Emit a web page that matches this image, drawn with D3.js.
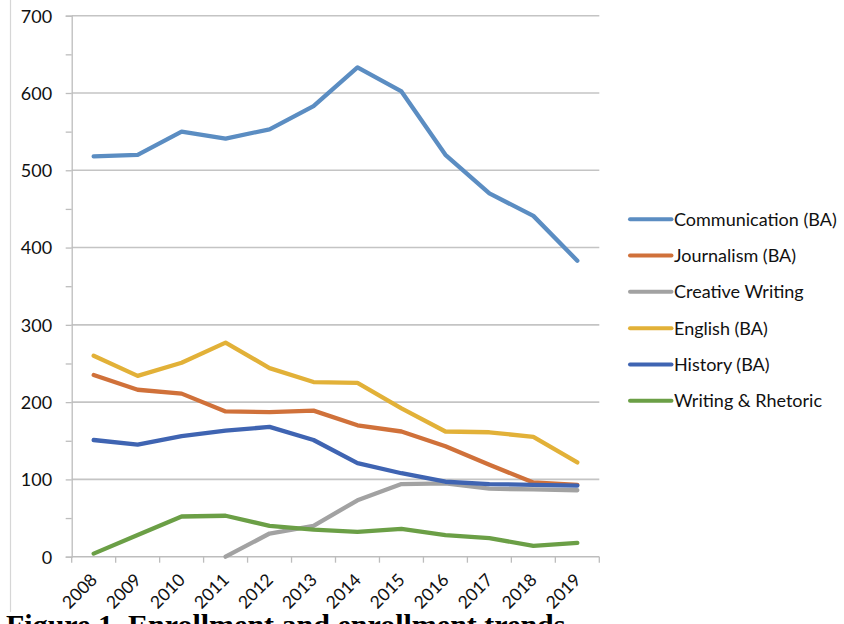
<!DOCTYPE html>
<html>
<head>
<meta charset="utf-8">
<script src="https://cdn.jsdelivr.net/npm/d3@7"></script>
<style>
  html, body { margin: 0; padding: 0; background: #fff; overflow: hidden; }
  svg { display: block; }
</style>
</head>
<body>
<svg id="chart" width="844" height="624"></svg>
<script>
// Enrollment by program, 2008–2019
const years = ["2008","2009","2010","2011","2012","2013","2014","2015","2016","2017","2018","2019"];
const communication = [518, 520, 550, 541, 553, 583, 633, 602, 520, 470, 441, 383];
const journalism    = [235, 216, 211, 188, 187, 189, 170, 162, 143, 119, 96, 93];
const creativeWriting = [null, null, null, 0, 30, 40, 73, 94, 95, 88, 87, 86];
const english       = [260, 234, 251, 277, 244, 226, 225, 192, 162, 161, 155, 122];
const history       = [151, 145, 156, 163, 168, 151, 121, 108, 97, 94, 93, 92];
const writingRhetoric = [4, 28, 52, 53, 40, 35, 32, 36, 28, 24, 14, 18];
const yTicks = [0, 100, 200, 300, 400, 500, 600, 700];
const yMinorTicks = [50, 150, 250, 350, 450, 550, 650];

const seriesNames = ["Communication (BA)", "Journalism (BA)", "Creative Writing", "English (BA)", "History (BA)", "Writing & Rhetoric"];
const seriesValues = [communication, journalism, creativeWriting, english, history, writingRhetoric];
const seriesColors = ["#5B8DC2", "#D0713A", "#A2A2A2", "#E2B138", "#3F64B2", "#6B9F46"];

const svg = d3.select("#chart");
const font = "Lato, 'Open Sans', sans-serif";

const x = d3.scaleBand().domain(years).range([71.7, 599.3]).padding(0);
const y = d3.scaleLinear().domain([0, 700]).range([556.7, 15.7]);

// outer frame line on the left
svg.append("line")
  .attr("x1", 10.5).attr("x2", 10.5).attr("y1", 0).attr("y2", 612)
  .attr("stroke", "#D6D6D6").attr("stroke-width", 1.2);

// horizontal gridlines
svg.append("g").selectAll("line").data(yTicks.filter(v => v > 0)).join("line")
  .attr("x1", 71.7).attr("x2", 599.3)
  .attr("y1", d => y(d)).attr("y2", d => y(d))
  .attr("stroke", "#C4C4C4").attr("stroke-width", 1.6);

// y axis
const yAxis = d3.axisLeft(y).tickValues(yTicks.concat(yMinorTicks)).tickSize(6)
  .tickFormat(d => yTicks.includes(d) ? d : "");
const gy = svg.append("g").attr("transform", "translate(71.7,0)").call(yAxis);
gy.select(".domain").attr("stroke", "#BDBDBD").attr("stroke-width", 1.3);
gy.selectAll(".tick line").attr("stroke", "#BDBDBD").attr("stroke-width", 1.3);
gy.selectAll(".tick text")
  .attr("x", -19.5).attr("dy", "0.35em")
  .attr("font-family", font).attr("font-size", 18).attr("fill", "#111");

// x axis with ticks at category boundaries
const bounds = years.map(yr => x(yr)).concat([x.range()[1]]);
svg.append("line")
  .attr("x1", 71.7).attr("x2", 599.3).attr("y1", y(0)).attr("y2", y(0))
  .attr("stroke", "#BDBDBD").attr("stroke-width", 1.6);
svg.append("g").selectAll("line").data(bounds).join("line")
  .attr("x1", d => d).attr("x2", d => d)
  .attr("y1", y(0)).attr("y2", y(0) + 6)
  .attr("stroke", "#BDBDBD").attr("stroke-width", 1.3);

svg.append("g").selectAll("text").data(years).join("text")
  .attr("transform", d => `translate(${x(d) + x.bandwidth() / 2 + 4.6},581) rotate(-45)`)
  .attr("text-anchor", "end")
  .attr("font-family", font).attr("font-size", 17.5).attr("fill", "#111")
  .text(d => d);

// series lines
const line = d3.line()
  .defined(d => d.v !== null)
  .x(d => x(d.year) + x.bandwidth() / 2)
  .y(d => y(d.v));

seriesValues.forEach((vals, i) => {
  svg.append("path")
    .datum(vals.map((v, j) => ({ year: years[j], v })))
    .attr("fill", "none")
    .attr("stroke", seriesColors[i])
    .attr("stroke-width", 4.3)
    .attr("stroke-linejoin", "round")
    .attr("stroke-linecap", "round")
    .attr("d", line);
});

// legend
const legendY = d3.scalePoint().domain(seriesNames).range([219.3, 400.7]);
const legend = svg.append("g").selectAll("g").data(seriesNames).join("g")
  .attr("transform", d => `translate(0,${legendY(d)})`);
legend.append("line")
  .attr("x1", 630).attr("x2", 671.5).attr("y1", 0).attr("y2", 0)
  .attr("stroke", (d, i) => seriesColors[i]).attr("stroke-width", 4)
  .attr("stroke-linecap", "round");
legend.append("text")
  .attr("x", 674).attr("dy", "0.36em")
  .attr("font-family", font).attr("font-size", 18).attr("fill", "#111")
  .text(d => d);

// figure caption (runs off the bottom edge)
svg.append("text")
  .attr("x", 6).attr("y", 635)
  .attr("font-family", "'Liberation Serif', 'DejaVu Serif', serif")
  .attr("font-weight", "bold").attr("font-size", 30).attr("fill", "#000")
  .text("Figure 1. Enrollment and enrollment trends");
</script>
</body>
</html>
